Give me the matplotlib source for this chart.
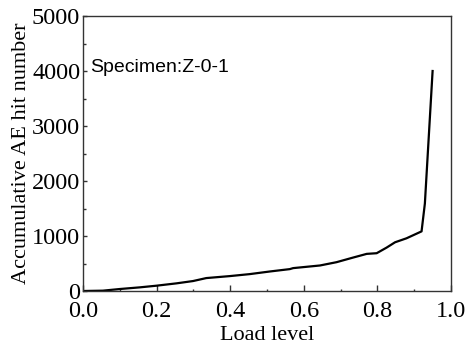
import matplotlib
matplotlib.use("Agg")
import matplotlib.pyplot as plt
from matplotlib.ticker import MultipleLocator

load_level = [0.0, 0.054, 0.100, 0.154, 0.199, 0.254, 0.299, 0.335, 0.399, 0.453,
              0.508, 0.562, 0.571, 0.644, 0.689, 0.734, 0.771, 0.798, 0.825, 0.848,
              0.879, 0.920, 0.929, 0.950]
hits = [0, 6, 36, 66, 96, 139, 181, 235, 271, 307,
        355, 398, 416, 464, 524, 608, 675, 687, 789, 886,
        958, 1084, 1590, 4000]

plt.rcParams['font.family'] = ['Liberation Serif', 'DejaVu Serif']
fig = plt.figure(figsize=(4.67, 3.51), dpi=100)
ax = fig.add_axes([83/467, 1-291/351, (451-83)/467, (291-16)/351])
ax.plot(load_level, hits, color='black', lw=1.6)
ax.set_xlim(0, 1.0)
ax.set_ylim(0, 5000)
ax.set_xticks([0, 0.2, 0.4, 0.6, 0.8, 1.0])
ax.set_xticklabels(['0.0', '0.2', '0.4', '0.6', '0.8', '1.0'])
ax.xaxis.set_minor_locator(MultipleLocator(0.1))
ax.yaxis.set_major_locator(MultipleLocator(1000))
ax.yaxis.set_minor_locator(MultipleLocator(500))
ax.tick_params(which='both', direction='in', top=False, right=False, labelsize=17.5,
               color='#333333', width=1)
ax.tick_params(axis='x', which='major', pad=7, length=4)
ax.tick_params(axis='x', which='minor', length=1.8)
ax.tick_params(axis='y', which='major', pad=2, length=3)
ax.tick_params(axis='y', which='minor', length=2)
for s in ax.spines.values():
    s.set_linewidth(1.0)
    s.set_color('#333333')
ax.set_xlabel('Load level', fontsize=16, labelpad=3)
ax.set_ylabel('Accumulative AE hit number', fontsize=16, labelpad=1)
ax.text(0.02, 4070, 'Specimen:Z-0-1', fontsize=14, family=['Liberation Sans'], va='center', ha='left')
fig.savefig('out.png', dpi=100)
